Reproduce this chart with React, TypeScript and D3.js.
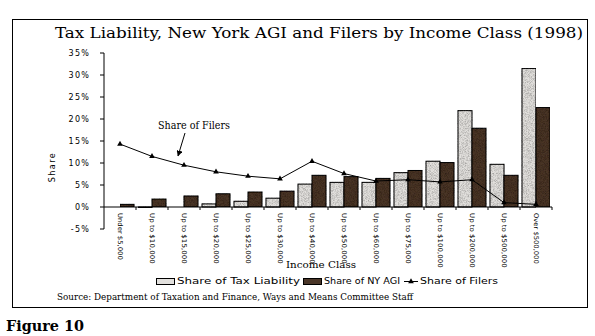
import React from "react";
import * as d3 from "d3";

const categories = [
  "Under $5,000",
  "Up to $10,000",
  "Up to $15,000",
  "Up to $20,000",
  "Up to $25,000",
  "Up to $30,000",
  "Up to $40,000",
  "Up to $50,000",
  "Up to $60,000",
  "Up to $75,000",
  "Up to $100,000",
  "Up to $200,000",
  "Up to $500,000",
  "Over $500,000",
];
const taxLiability = [0.0, -0.2, 0.0, 0.7, 1.3, 2.0, 5.2, 5.6, 5.6, 7.8, 10.4, 21.9, 9.7, 31.5];
const nyAgi = [0.6, 1.8, 2.5, 3.0, 3.4, 3.6, 7.2, 6.9, 6.5, 8.3, 10.1, 17.9, 7.2, 22.6];
const filers = [14.3, 11.5, 9.5, 8.0, 7.0, 6.4, 10.4, 7.6, 5.9, 6.2, 5.7, 6.2, 1.0, 0.6];
const yTicks = [-5, 0, 5, 10, 15, 20, 25, 30, 35];
const seriesNames = ["Share of Tax Liability", "Share of NY AGI", "Share of Filers"];

const LIGHT = "#e2e0dd";
const DARK = "#4a3628";

export default function App() {
  const plot = { left: 104, right: 552, top: 53, bottom: 229 };
  const y = d3.scaleLinear().domain([-5, 35]).range([plot.bottom, plot.top]);
  const x = d3.scaleBand<string>().domain(categories).range([plot.left, plot.right]).padding(0);
  const inner = d3.scaleBand<string>().domain(["tax", "agi"]).range([2, x.bandwidth() - 2]).padding(0);
  const cx = (c: string) => (x(c) as number) + x.bandwidth() / 2;
  const line = d3
    .line<number>()
    .x((_, i) => cx(categories[i]))
    .y((v) => y(v));
  const tri = d3.symbol().type(d3.symbolTriangle).size(14)() as string;
  const y0 = y(0);
  const monoFont = "'DejaVu Sans', sans-serif";

  const bar = (vals: number[], key: string, fill: string) =>
    vals.map((v, i) => {
      const c = categories[i];
      const bx = (x(c) as number) + (inner(key) as number);
      const top = Math.min(y(v), y0);
      const h = Math.abs(y(v) - y0);
      return (
        <rect
          key={key + i}
          x={bx}
          y={top}
          width={inner.bandwidth()}
          height={h}
          fill={fill}
          stroke="#000"
          strokeWidth={1}
        />
      );
    });

  return (
    <svg
      width={595}
      height={336}
      style={{ position: "absolute", left: 0, top: 0, background: "#fff" }}
    >
      <defs>
        <filter id="speckle" x="0" y="0" width="100%" height="100%">
          <feTurbulence type="fractalNoise" baseFrequency="1.4" numOctaves="1" seed="3" result="n" />
          <feColorMatrix
            in="n"
            type="matrix"
            values="0 0 0 0 0  0 0 0 0 0  0 0 0 0 0  0 0 0 -1.2 0.75"
            result="a"
          />
          <feComposite in="a" in2="SourceGraphic" operator="in" result="dots" />
          <feMerge>
            <feMergeNode in="SourceGraphic" />
            <feMergeNode in="dots" />
          </feMerge>
        </filter>
        <marker id="arrow" viewBox="0 0 10 10" refX="9" refY="5" markerWidth="6" markerHeight="6" orient="auto">
          <path d="M0,0 L10,5 L0,10 z" fill="#000" />
        </marker>
      </defs>

      <rect x={12.5} y={19.5} width={575} height={288} fill="none" stroke="#000" strokeWidth={1} />

      <text
        x={55}
        y={38}
        fontFamily="'DejaVu Serif', serif"
        fontSize={15}
        textLength={528}
        lengthAdjust="spacingAndGlyphs"
        fill="#000"
      >
        Tax Liability, New York AGI and Filers by Income Class (1998)
      </text>

      {/* y axis */}
      <line x1={plot.left} x2={plot.left} y1={plot.top} y2={plot.bottom} stroke="#000" />
      {yTicks.map((t) => (
        <g key={t}>
          <line x1={plot.left - 4} x2={plot.left} y1={y(t)} y2={y(t)} stroke="#000" />
          <text
            x={90}
            y={y(t) + 3}
            textAnchor="end"
            fontFamily={monoFont}
            fontSize={8}
            letterSpacing={1.2}
            fill="#000"
          >
            {t + "%"}
          </text>
        </g>
      ))}
      <text
        transform={`translate(55,${(y(15) + y(5)) / 2 + 4}) rotate(-90)`}
        textAnchor="middle"
        fontFamily={monoFont}
        fontSize={8}
        letterSpacing={1.5}
        fill="#000"
      >
        Share
      </text>

      {/* bars */}
      <g filter="url(#speckle)">{bar(taxLiability, "tax", LIGHT)}</g>
      <g filter="url(#speckle)">{bar(nyAgi, "agi", DARK)}</g>

      {/* x axis */}
      <line x1={plot.left} x2={plot.right} y1={y0} y2={y0} stroke="#000" />
      {categories.map((c) => (
        <line
          key={"t" + c}
          x1={(x(c) as number) + x.bandwidth()}
          x2={(x(c) as number) + x.bandwidth()}
          y1={y0}
          y2={y0 + 3}
          stroke="#000"
        />
      ))}
      {categories.map((c) => (
        <text
          key={"l" + c}
          transform={`translate(${cx(c) - 2.5},${y0 + 6}) rotate(90)`}
          fontFamily={monoFont}
          fontSize={6.5}
          textLength={c.length * 3.9}
          lengthAdjust="spacingAndGlyphs"
          fill="#000"
        >
          {c}
        </text>
      ))}

      {/* line */}
      <path d={line(filers) as string} fill="none" stroke="#000" strokeWidth={1} />
      {filers.map((v, i) => (
        <path key={"m" + i} d={tri} transform={`translate(${cx(categories[i])},${y(v)})`} fill="#000" />
      ))}

      {/* annotation */}
      <text x={158} y={129} fontFamily="'DejaVu Serif', serif" fontSize={11} textLength={72} lengthAdjust="spacingAndGlyphs">
        Share of Filers
      </text>
      <line x1={185} y1={133} x2={178} y2={156} stroke="#000" strokeWidth={1} markerEnd="url(#arrow)" />

      <text
        x={321}
        y={268}
        textAnchor="middle"
        fontFamily="'DejaVu Serif', serif"
        fontSize={10}
        textLength={70}
        lengthAdjust="spacingAndGlyphs"
      >
        Income Class
      </text>

      {/* legend */}
      <g>
        <rect x={156.5} y={278.5} width={18} height={6} fill={LIGHT} stroke="#000" />
        <text x={177} y={284} fontFamily={monoFont} fontSize={8} textLength={123} lengthAdjust="spacingAndGlyphs">
          {seriesNames[0]}
        </text>
        <rect x={303.5} y={278.5} width={18} height={6} fill={DARK} stroke="#000" />
        <text x={324} y={284} fontFamily={monoFont} fontSize={8} textLength={76} lengthAdjust="spacingAndGlyphs">
          {seriesNames[1]}
        </text>
        <line x1={404} x2={418} y1={281.5} y2={281.5} stroke="#000" />
        <path d={tri} transform="translate(411,281.5)" fill="#000" />
        <text x={420} y={284} fontFamily={monoFont} fontSize={8} textLength={78} lengthAdjust="spacingAndGlyphs">
          {seriesNames[2]}
        </text>
      </g>

      <text
        x={57}
        y={300}
        fontFamily="'DejaVu Serif', serif"
        fontSize={10}
        textLength={356}
        lengthAdjust="spacingAndGlyphs"
      >
        Source: Department of Taxation and Finance, Ways and Means Committee Staff
      </text>

      <text
        x={6}
        y={331}
        fontFamily="'DejaVu Serif', serif"
        fontSize={15}
        fontWeight="bold"
        textLength={78}
        lengthAdjust="spacingAndGlyphs"
      >
        Figure 10
      </text>
    </svg>
  );
}
